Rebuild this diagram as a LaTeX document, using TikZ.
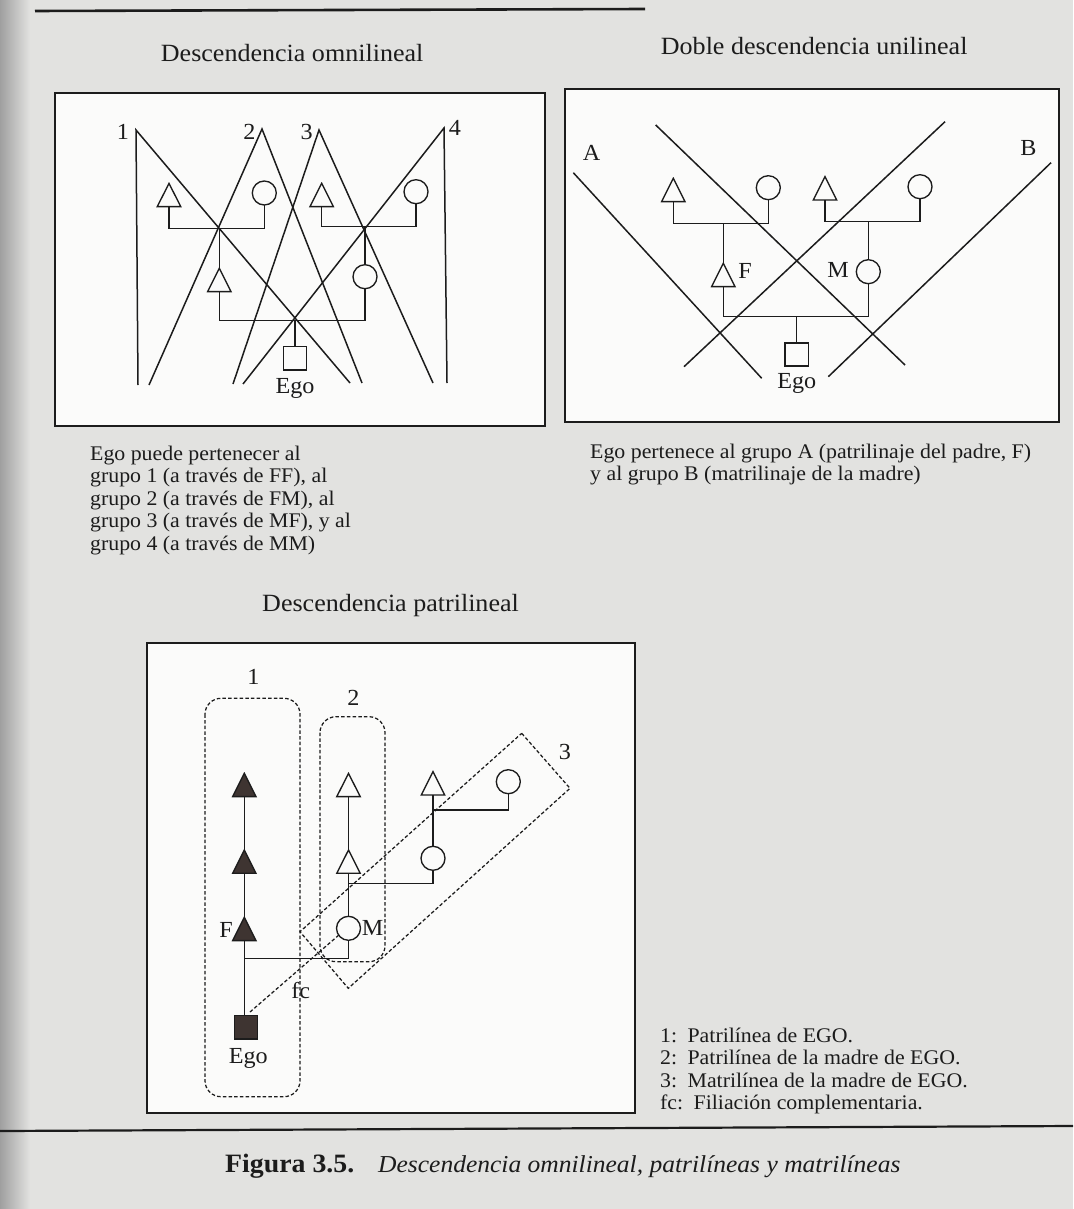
\documentclass[tikz,border=0pt]{standalone}
\usepackage{fontspec}
\setmainfont[FakeStretch=1.05]{Liberation Serif}
\usetikzlibrary{calc}
\definecolor{ink}{HTML}{1C1C1C}
\definecolor{pagebg}{HTML}{E2E2E0}
\definecolor{boxbg}{HTML}{FBFBFA}
\definecolor{symdark}{HTML}{3E3431}
\tikzset{
  boxline/.style={draw=ink, line width=1.7pt, fill=boxbg},
  gline/.style={draw=ink, line width=1.5pt},
  kin/.style={draw=ink, line width=1.35pt},
  tri/.style={rectangle, draw=none, minimum width=26pt, minimum height=25.5pt,
     inner sep=0pt, outer sep=-1.1pt, anchor=north, trifill=boxbg},
  trifill/.style={path picture={
     \filldraw[draw=ink, fill=#1, line width=1.35pt, line join=miter]
       ([xshift=1.3pt,yshift=1.1pt]path picture bounding box.south west) --
       ([yshift=-1.1pt]path picture bounding box.north) --
       ([xshift=-1.3pt,yshift=1.1pt]path picture bounding box.south east) -- cycle;}},
  tridark/.style={tri, trifill=symdark},
  circ/.style={circle, minimum size=24pt, inner sep=0pt, outer sep=0pt, draw=ink, line width=1.35pt, fill=boxbg},
  sq/.style={rectangle, minimum size=23.3pt, inner sep=0pt, outer sep=0pt, draw=ink, line width=1.35pt, fill=boxbg},
  sqdark/.style={sq, fill=symdark},
  grpdash/.style={draw=ink, line width=1.25pt, dash pattern=on 3.5pt off 2.2pt},
  lab/.style={inner sep=0pt, text=ink, font=\fontsize{23}{27}\selectfont},
  title/.style={inner sep=0pt, text=ink, anchor=base west, font=\fontsize{24.8}{29}\selectfont},
  body/.style={inner sep=0pt, text=ink, anchor=base west, font=\fontsize{20.8}{24}\selectfont},
}
\begin{document}
\begin{tikzpicture}[x=1pt,y=-1pt]
\useasboundingbox (0,0) rectangle (1073,1209);
\fill[pagebg] (0,0) rectangle (1073,1209);
\shade[left color=gray!75, right color=pagebg] (0,0) rectangle (30,1209);
% page rules
\draw[ink, line width=2.6pt] (35,11) -- (645,9);
\draw[ink, line width=2.2pt] (0,1131) -- (1073,1126);

% ---------- titles ----------
\node[title] (t1) at (160.7,61.7) {Descendencia omnilineal};
\node[title] (t2) at (660.7,55) {Doble descendencia unilineal};
\node[title] (t3) at (262,611) {Descendencia patrilineal};

% =========== BOX 1 : omnilineal ===========
\draw[boxline] (55,93) rectangle (545,426);
\draw[gline] (138,385) -- (136,130) -- (350,383);
\draw[gline] (149,385) -- (262,129) -- (362,383);
\draw[gline] (233,384) -- (319,130) -- (433,383);
\draw[gline] (243,384) -- (444,128) -- (447,383);
\node[lab] (g1) at (123,132) {1};
\node[lab] (g2) at (249.3,131.7) {2};
\node[lab] (g3) at (306.7,131.7) {3};
\node[lab] (g4) at (455,128.3) {4};
\node[tri]  (b1tFF) at (169,183.3) {};
\node[circ] (b1cFM) at (264.3,193) {};
\node[tri]  (b1tMF) at (321.7,183.3) {};
\node[circ] (b1cMM) at (416,191.7) {};
\node[tri]  (b1tF)  at (219.3,268.3) {};
\node[circ] (b1cM)  at (365,276.7) {};
\node[sq]   (b1ego) at (295,358.3) {};
\node[lab]  (b1egol) at (295,388) {Ego};
\coordinate (b1jF) at (219.3,228.3);
\coordinate (b1jM) at (365,226.7);
\coordinate (b1jE) at (295,320.7);
\draw[kin] (b1tFF.south) |- (b1jF) -| (b1cFM.south);
\draw[kin] (b1jF) -- (b1tF.north);
\draw[kin] (b1tMF.south) |- (b1jM) -| (b1cMM.south);
\draw[kin] (b1jM) -- (b1cM.north);
\draw[kin] (b1tF.south) |- (b1jE) -| (b1cM.south);
\draw[kin] (b1jE) -- (b1ego.north);

% =========== BOX 2 : doble unilineal ===========
\draw[boxline] (565,89) rectangle (1059,422);
\draw[gline] (573.3,172.7) -- (761.7,378.3);
\draw[gline] (655.7,125) -- (905,365);
\draw[gline] (945,121.7) -- (684,366.7);
\draw[gline] (1051,162.7) -- (828.3,376.7);
\node[lab] (gA) at (591.7,153.3) {A};
\node[lab] (gB) at (1028.3,148.3) {B};
\node[tri]  (b2tFF) at (673.3,178.3) {};
\node[circ] (b2cFM) at (768.3,187.7) {};
\node[tri]  (b2tMF) at (825,176.7) {};
\node[circ] (b2cMM) at (920,186.7) {};
\node[tri]  (b2tF)  at (723.3,263.3) {};
\node[circ] (b2cM)  at (868.3,271.7) {};
\node[sq]   (b2ego) at (796.7,354.5) {};
\node[lab]  (b2F) at (745,270.7) {F};
\node[lab]  (b2M) at (838,270) {M};
\node[lab]  (b2egol) at (796.7,383.3) {Ego};
\coordinate (b2jF) at (723.3,223.3);
\coordinate (b2jM) at (868.3,221.7);
\coordinate (b2jE) at (796.7,316.7);
\draw[kin] (b2tFF.south) |- (b2jF) -| (b2cFM.south);
\draw[kin] (b2jF) -- (b2tF.north);
\draw[kin] (b2tMF.south) |- (b2jM) -| (b2cMM.south);
\draw[kin] (b2jM) -- (b2cM.north);
\draw[kin] (b2tF.south) |- (b2jE) -| (b2cM.south);
\draw[kin] (b2jE) -- (b2ego.north);

% captions under boxes
\node[body] (c1a) at (90,460) {Ego puede pertenecer al};
\node[body] (c1b) at (90,482.5) {grupo 1 (a través de FF), al};
\node[body] (c1c) at (90,505) {grupo 2 (a través de FM), al};
\node[body] (c1d) at (90,527.5) {grupo 3 (a través de MF), y al};
\node[body] (c1e) at (90,550) {grupo 4 (a través de MM)};
\node[body] (c2a) at (590,458.3) {Ego pertenece al grupo A (patrilinaje del padre, F)};
\node[body] (c2b) at (590,480.5) {y al grupo B (matrilinaje de la madre)};

% =========== BOX 3 : patrilineal ===========
\draw[boxline] (147,643) rectangle (635,1113);
\draw[grpdash, rounded corners=16pt] (205,698.3) rectangle (300,1096.7);
\draw[grpdash, rounded corners=16pt] (320,716.7) rectangle (385,961.7);
\draw[grpdash] (521.7,733.3) -- (570,788.3) -- (348.3,988.3) -- (300,931.7) -- cycle;
\node[lab] (p1) at (253.3,676.7) {1};
\node[lab] (p2) at (353.3,698.3) {2};
\node[lab] (p3) at (565,751.7) {3};
\node[tridark] (b3t1) at (244.3,773.3) {};
\node[tridark] (b3t2) at (244.3,850) {};
\node[tridark] (b3tF) at (244.3,917.3) {};
\node[sqdark]  (b3ego) at (246,1027.2) {};
\node[circ] (b3cM) at (348.5,928.3) {};
\node[tri]  (b3t5) at (348.5,850) {};
\node[tri]  (b3t4) at (348.5,773.3) {};
\node[circ] (b3c3) at (433,858.3) {};
\node[tri]  (b3t6) at (433,771.7) {};
\node[circ] (b3c4) at (508.3,781.7) {};
\node[lab] (b3F) at (226,930) {F};
\node[lab] (b3M) at (372.5,927.7) {M};
\node[lab] (b3egol) at (248.3,1058.3) {Ego};
\node[lab] (b3fc) at (300.7,991) {fc};
\coordinate (b3jF) at (244.3,958.3);
\coordinate (b3jM) at (348.5,883.3);
\coordinate (b3jC) at (433,810);
\coordinate (b3fcA) at (250,1012);
\draw[kin] (b3t1.south) -- (b3t2.north);
\draw[kin] (b3t2.south) -- (b3tF.north);
\draw[kin] (b3tF.south) -- (b3tF.south |- b3ego.north);
\draw[kin] (b3jF) -| (b3cM.south);
\draw[kin] (b3t4.south) -- (b3t5.north);
\draw[kin] (b3t5.south) -- (b3cM.north);
\draw[kin] (b3jM) -| (b3c3.south);
\draw[kin] (b3t6.south) -- (b3c3.north);
\draw[kin] (b3jC) -| (b3c4.south);
\draw[grpdash] (b3fcA) -- (b3cM.215);

% legend
\node[body] (l1) at (660,1042) {1:\enspace Patrilínea de EGO.};
\node[body] (l2) at (660,1064.5) {2:\enspace Patrilínea de la madre de EGO.};
\node[body] (l3) at (660,1087) {3:\enspace Matrilínea de la madre de EGO.};
\node[body] (l4) at (660,1109.5) {fc:\enspace Filiación complementaria.};

% figure caption
\node[inner sep=0pt, anchor=base west, text=ink, font=\fontsize{26.5}{31}\selectfont\bfseries] (figl) at (225,1172) {Figura 3.5.};
\node[inner sep=0pt, anchor=base west, text=ink, font=\fontsize{24.3}{29}\selectfont\itshape] (figt) at (378,1172) {Descendencia omnilineal, patrilíneas y matrilíneas};
\end{tikzpicture}
\end{document}
